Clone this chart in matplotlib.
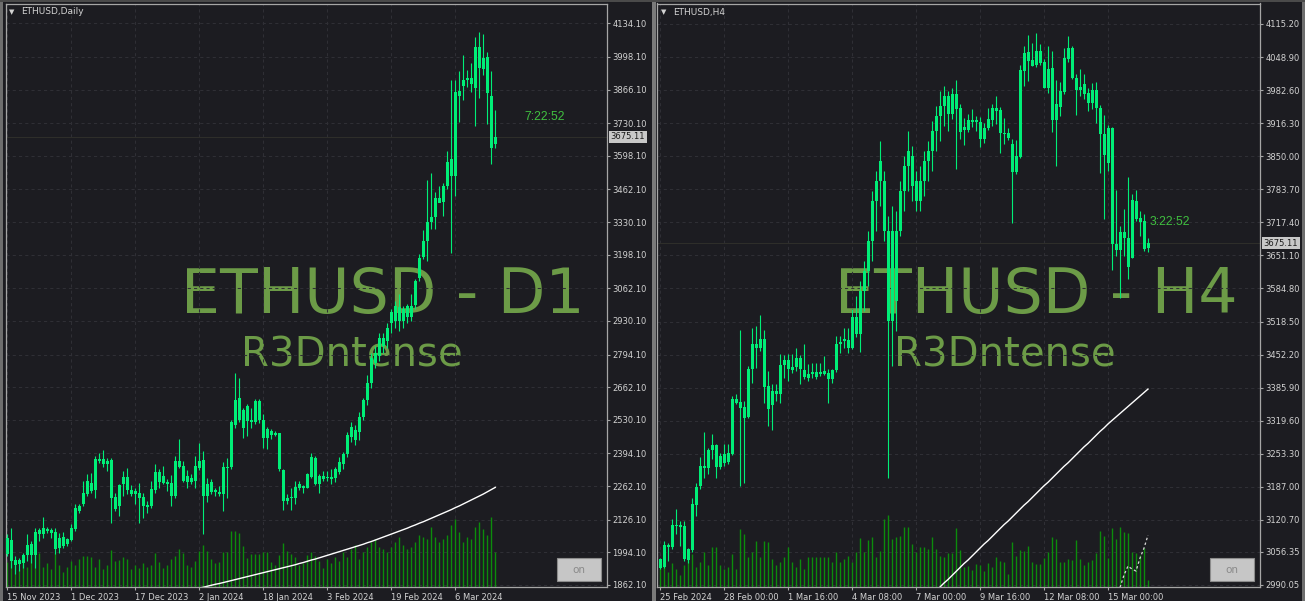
import matplotlib.pyplot as plt
import numpy as np
from matplotlib.patches import Rectangle
from matplotlib import transforms

W, H = 1305, 601
BG = '#1c1c21'
GRID = '#2f2f35'
CANDLE = '#00ee77'
VOLC = '#0c8c0c'
WATER = '#6c9b47'
FRAME = '#a6a6a6'
LABEL = '#d2d2d2'

# ---- ETHUSD Daily ----
d_hi = [2067, 2094, 1979, 1972, 1993, 2067, 2040, 2094, 2094, 2137, 2097, 2094, 2094, 2074, 2078, 2053,
        2110, 2191, 2188, 2283, 2310, 2317, 2384, 2398, 2407, 2377, 2377, 2236, 2272, 2323, 2334, 2267,
        2256, 2276, 2236, 2202, 2283, 2350, 2330, 2344, 2290, 2307, 2384, 2452, 2364, 2326, 2310, 2384,
        2438, 2404, 2296, 2290, 2256, 2263, 2361, 2375, 2529, 2720, 2700, 2580, 2594, 2580, 2614, 2614,
        2553, 2502, 2492, 2483, 2475, 2330, 2229, 2256, 2283, 2283, 2267, 2317, 2394, 2384, 2310, 2323,
        2323, 2330, 2340, 2380, 2400, 2480, 2520, 2510, 2560, 2620, 2710, 2800, 2830, 2880, 2880, 2920,
        2980, 3010, 3040, 2990, 3000, 3040, 3100, 3200, 3300, 3501, 3528, 3451, 3474, 3489, 3616, 3906,
        3906, 3941, 4004, 3946, 3973, 4079, 4099, 4092, 4018, 3940, 3784]
d_lo = [1979, 1932, 1905, 1918, 1932, 1959, 1952, 1932, 2040, 2053, 2074, 2053, 1986, 1993, 2013, 2020,
        2040, 2080, 2155, 2182, 2222, 2236, 2215, 2357, 2340, 2323, 2114, 2161, 2141, 2222, 2229, 2222,
        2191, 2114, 2134, 2155, 2175, 2236, 2256, 2269, 2242, 2182, 2213, 2334, 2280, 2256, 2269, 2256,
        2326, 2067, 2199, 2229, 2222, 2222, 2161, 2215, 2330, 2499, 2520, 2458, 2465, 2499, 2515, 2519,
        2418, 2411, 2452, 2465, 2323, 2166, 2188, 2166, 2188, 2245, 2236, 2256, 2296, 2267, 2236, 2283,
        2283, 2270, 2280, 2310, 2330, 2380, 2440, 2430, 2450, 2530, 2590, 2660, 2740, 2770, 2800, 2820,
        2880, 2900, 2890, 2900, 2920, 2930, 2980, 3090, 3180, 3174, 3302, 3302, 3410, 3354, 3464, 3205,
        3435, 3734, 3822, 3876, 3856, 3717, 3833, 3923, 3725, 3563, 3630]
d_op = [2053, 1959, 1963, 1948, 1952, 1983, 2029, 1983, 2067, 2093, 2080, 2085, 2078, 2013, 2056, 2029,
        2045, 2090, 2182, 2188, 2232, 2276, 2248, 2371, 2372, 2353, 2368, 2218, 2180, 2269, 2299, 2248,
        2229, 2236, 2218, 2178, 2182, 2245, 2321, 2276, 2279, 2276, 2222, 2364, 2344, 2280, 2296, 2283,
        2334, 2367, 2222, 2279, 2238, 2240, 2232, 2340, 2340, 2508, 2620, 2496, 2587, 2529, 2520, 2607,
        2529, 2458, 2485, 2468, 2475, 2327, 2202, 2213, 2213, 2253, 2263, 2256, 2299, 2377, 2272, 2303,
        2294, 2290, 2295, 2320, 2350, 2390, 2460, 2490, 2480, 2540, 2610, 2680, 2760, 2790, 2860, 2850,
        2920, 2990, 2930, 2980, 2945, 2990, 2996, 3105, 3187, 3252, 3329, 3350, 3428, 3410, 3475, 3586,
        3518, 3842, 3880, 3903, 3913, 3872, 4038, 3948, 3998, 3842, 3647]
d_cl = [1986, 2044, 1943, 1962, 1983, 2024, 1983, 2076, 2085, 2067, 2090, 2074, 2009, 2053, 2021, 2049,
        2094, 2175, 2161, 2234, 2283, 2242, 2372, 2364, 2353, 2364, 2215, 2171, 2267, 2299, 2245, 2232,
        2242, 2215, 2182, 2184, 2249, 2320, 2280, 2303, 2272, 2222, 2364, 2340, 2283, 2303, 2280, 2344,
        2364, 2222, 2269, 2240, 2247, 2232, 2340, 2334, 2520, 2611, 2529, 2570, 2526, 2520, 2607, 2529,
        2458, 2495, 2468, 2475, 2330, 2202, 2215, 2218, 2259, 2272, 2253, 2310, 2380, 2272, 2303, 2292,
        2299, 2300, 2330, 2360, 2390, 2470, 2500, 2450, 2540, 2610, 2680, 2780, 2800, 2860, 2830, 2900,
        2965, 2930, 2985, 2930, 2992, 2945, 3093, 3186, 3252, 3329, 3350, 3428, 3406, 3478, 3575, 3518,
        3856, 3862, 3903, 3913, 3890, 4038, 3953, 3994, 3852, 3629, 3675.11]
d_vol = [25, 34, 22, 18, 26, 20, 28, 34, 34, 20, 24, 18, 34, 22, 15, 20, 26, 22, 28, 31, 31, 30, 20, 28,
         18, 22, 37, 26, 27, 30, 28, 18, 22, 19, 24, 20, 22, 34, 25, 19, 22, 28, 31, 38, 34, 22, 20, 26,
         36, 42, 36, 28, 24, 25, 35, 35, 56, 56, 54, 41, 29, 33, 33, 33, 35, 35, 25, 22, 32, 44, 36, 33,
         30, 22, 24, 32, 35, 31, 26, 19, 28, 24, 30, 26, 35, 30, 38, 42, 28, 35, 40, 45, 48, 40, 38, 35,
         40, 45, 50, 42, 38, 40, 45, 52, 50, 48, 60, 50, 45, 48, 52, 62, 68, 55, 45, 50, 48, 60, 65, 58,
         52, 70, 35]
# moving average, from bar 48 to the last bar
d_ma = [1850, 1853, 1857, 1861, 1865, 1868, 1872, 1876, 1880, 1884, 1888, 1892, 1896, 1900, 1904, 1908,
        1912, 1916, 1920, 1924, 1928, 1932, 1936, 1940, 1944, 1949, 1953, 1958, 1963, 1967, 1972, 1977,
        1982, 1987, 1992, 1997, 2002, 2007, 2012, 2017, 2022, 2027, 2033, 2038, 2044, 2050, 2056, 2062,
        2068, 2074, 2080, 2086, 2092, 2099, 2105, 2112, 2118, 2125, 2132, 2139, 2146, 2153, 2160, 2167,
        2175, 2182, 2190, 2198, 2206, 2214, 2222, 2230, 2239, 2248, 2257]
d_ticks = [4134.10, 3998.10, 3866.10, 3730.10, 3598.10, 3462.10, 3330.10, 3198.10, 3062.10, 2930.10,
           2794.10, 2662.10, 2530.10, 2394.10, 2262.10, 2126.10, 1994.10, 1862.10]
d_dates = ['15 Nov 2023', '1 Dec 2023', '17 Dec 2023', '2 Jan 2024', '18 Jan 2024', '3 Feb 2024',
           '19 Feb 2024', '6 Mar 2024']

# ---- ETHUSD H4 ----
h_hi = [3045, 3078, 3075, 3122, 3142, 3118, 3118, 3065, 3164, 3195, 3247, 3296, 3265.5, 3292, 3272, 3255,
        3272, 3273.5, 3369, 3372.5, 3501, 3359, 3429, 3506, 3509.5, 3531.5, 3501, 3419, 3392.5, 3392.5,
        3452.6, 3451, 3452.6, 3452.6, 3464.7, 3451, 3474, 3432.6, 3436, 3436, 3436, 3449, 3422.6, 3422.6,
        3489.4, 3489.4, 3506, 3506, 3543, 3570, 3600, 3640, 3700, 3780, 3820, 3880, 3820, 3730, 3750,
        3740, 3800, 3850, 3900, 3870, 3820, 3830, 3860, 3880, 3920, 3950, 3980, 3990, 3980, 3987.5, 4002,
        3955.4, 3927, 3934, 3944, 3930.7, 3928.7, 3917.3, 3947.4, 3954, 3970.8, 3948.7, 3927, 3906,
        3883.9, 3882, 4033, 4071, 4093, 4077.7, 4096.5, 4074.4, 4044.3, 4071, 4061, 4002, 3999.5, 4067.7,
        4091, 4071, 4014.2, 4024.3, 4014.2, 3987.5, 3997.5, 3999.5, 3952.7, 3932.7, 3912, 3908.6, 3781.6,
        3710, 3743.5, 3808.3, 3774.9, 3781.6, 3740.2, 3733.5, 3685.3]
h_lo = [3021.5, 3025, 3038, 3062, 3092, 3068, 3038, 3035, 3057, 3128, 3182, 3205, 3212, 3242, 3204, 3222,
        3229, 3232, 3251, 3352.5, 3188, 3194, 3325.6, 3394.5, 3426, 3459, 3354.5, 3309, 3300, 3359,
        3354.5, 3406, 3399, 3416, 3419, 3392.5, 3402.5, 3399, 3404.5, 3402.5, 3409, 3411, 3356, 3396,
        3418, 3456, 3466, 3454.6, 3462.7, 3487.4, 3458, 3540, 3590, 3640, 3700, 3750, 3680, 3205, 3430,
        3500, 3690, 3740, 3780, 3760, 3740, 3740, 3770, 3800, 3820, 3860, 3880, 3910, 3900, 3924, 3825,
        3885, 3872.5, 3898.6, 3908.6, 3900.6, 3868.5, 3877.2, 3901.9, 3910.6, 3914, 3857, 3874, 3882,
        3716.8, 3815, 3847, 3990.8, 4000.9, 4031, 4029.6, 4033, 3987.5, 3977.5, 3898.6, 3830.4, 3930.7,
        3975.5, 4039.6, 4004.2, 3932.7, 3970.8, 3964, 3940.7, 3944, 3916, 3817, 3723.4, 3820.4, 3621.2,
        3649.9, 3565, 3649.9, 3603.1, 3645.2, 3720.1, 3690, 3659.9, 3658.6]
h_op = [3041.5, 3027, 3070, 3066, 3108, 3110, 3108, 3040, 3060, 3150.5, 3188.6, 3228, 3224, 3260, 3271,
        3227, 3252, 3237, 3252, 3362.5, 3357, 3347, 3327, 3422.6, 3474, 3466, 3482.7, 3389, 3350.5, 3379,
        3372.5, 3431, 3441, 3421, 3428, 3444.6, 3421, 3405.9, 3413.9, 3417, 3413.9, 3419, 3416, 3402.5,
        3420.6, 3472.7, 3479.4, 3480.7, 3466, 3527.5, 3492.7, 3580, 3620, 3680, 3760, 3800, 3800, 3700,
        3520, 3700, 3700, 3780, 3830, 3850, 3800, 3760, 3800, 3840, 3860, 3900, 3930, 3950, 3970, 3934,
        3975.5, 3946, 3902.6, 3902.6, 3922.7, 3918.6, 3918.6, 3883.9, 3907.3, 3922, 3946, 3942, 3897.3,
        3897.3, 3873.9, 3819, 3848.5, 4020.9, 4059, 4042.3, 4033, 4061, 4039.6, 3987.5, 4026.3, 3922.7,
        3949.4, 3978.8, 4045.7, 4066.4, 4007.6, 3982.2, 3994.2, 3977.5, 3957.4, 3982.2, 3946, 3895.2,
        3837, 3905.9, 3674.6, 3661.9, 3698, 3685.3, 3646.6, 3760.2, 3726.8, 3720.1, 3665]
h_cl = [3025, 3070, 3066, 3110, 3111, 3106, 3041.5, 3061.6, 3153, 3187, 3228, 3224, 3261, 3271, 3227,
        3249, 3235, 3254, 3362.5, 3355.7, 3345.7, 3325.6, 3422.6, 3472.6, 3466, 3482.7, 3387.8, 3344,
        3379, 3372.5, 3431, 3441, 3422.6, 3428, 3444.6, 3422.6, 3407, 3413.9, 3417, 3408, 3418, 3413.9,
        3402.5, 3420.6, 3474, 3478, 3482.7, 3466, 3527.5, 3492.7, 3580, 3620, 3680, 3760, 3800, 3840,
        3700, 3520, 3700, 3560, 3780, 3830, 3860, 3790, 3760, 3800, 3840, 3860, 3900, 3930, 3950, 3970,
        3934, 3974, 3944, 3899.3, 3908.6, 3922.7, 3919.3, 3922.7, 3883.9, 3907.3, 3924, 3946, 3940.7,
        3897.3, 3894, 3885.9, 3819, 3850.5, 4022.9, 4057.7, 4041, 4031, 4061, 4037.6, 3987.5, 4024.3,
        3922.7, 3954, 3980.8, 4047.7, 4066.4, 4007.6, 3982.8, 3989.5, 3975.5, 3957.4, 3982.2, 3946,
        3893.9, 3852.5, 3905.9, 3673.3, 3661.9, 3698, 3685.3, 3628.5, 3762.2, 3724.8, 3718.8, 3663.3,
        3675.11]
h_vol = [20, 26, 15, 24, 18, 12, 22, 28, 33, 20, 25, 35, 22, 40, 40, 22, 18, 20, 33, 18, 58, 53, 30, 35,
         46, 30, 46, 45, 28, 22, 25, 30, 40, 25, 20, 28, 18, 30, 30, 30, 30, 30, 30, 25, 35, 25, 28, 31,
         25, 35, 49, 35, 47, 50, 30, 36, 68, 72, 48, 50, 51, 60, 60, 43, 35, 40, 40, 38, 50, 38, 31, 30,
         34, 34, 59, 37, 20, 21, 17, 23, 22, 16, 24, 20, 30, 26, 25, 13, 45, 31, 37, 36, 41, 25, 23, 23,
         29, 35, 50, 48, 25, 25, 28, 27, 47, 28, 22, 25, 27, 34, 56, 51, 29, 59, 48, 60, 55, 54, 35, 34,
         32, 39, 7]
# indicator lines, from bar 68 (solid) and bar 115 (dashed) to the last bar
h_ma = [2970, 2978, 2986, 2994, 3001, 3009, 3017, 3025, 3033, 3040, 3048, 3056, 3064, 3072, 3079, 3087,
        3095, 3103, 3111, 3118, 3126, 3134, 3142, 3150, 3157, 3165, 3173, 3181, 3189, 3196, 3204, 3212,
        3220, 3228, 3235, 3243, 3251, 3259, 3267, 3274, 3282, 3290, 3298, 3305, 3313, 3320, 3327, 3334,
        3341, 3348, 3355, 3362, 3369, 3376, 3383]
h_sig = [2985, 3010, 3028, 3022, 3018, 3044, 3064, 3090]
h_ticks = [4115.20, 4048.90, 3982.60, 3916.30, 3850.00, 3783.70, 3717.40, 3651.10, 3584.80, 3518.50,
           3452.20, 3385.90, 3319.60, 3253.30, 3187.00, 3120.70, 3056.35, 2990.05]
h_dates = ['25 Feb 2024', '28 Feb 00:00', '1 Mar 16:00', '4 Mar 08:00', '7 Mar 00:00', '9 Mar 16:00',
           '12 Mar 08:00', '15 Mar 00:00']

fig = plt.figure(figsize=(W / 100, H / 100), dpi=100)
fig.patch.set_facecolor(BG)


def add_ax(x0, x1, y0, y1):
    return fig.add_axes([x0 / W, 1 - y1 / H, (x1 - x0) / W, (y1 - y0) / H])


def panel(ax, op, hi, lo, cl, vol, ylim, xlim, ticks, dates, min_body):
    x = np.arange(len(op))
    ax.set_facecolor(BG)
    ax.set_xlim(*xlim)
    ax.set_ylim(*ylim)
    # volumes along the bottom
    ax.vlines(x, 0, np.array(vol) / 583.5, transform=ax.get_xaxis_transform(),
              color=VOLC, lw=1.0, zorder=1)
    op, cl = np.array(op), np.array(cl)
    ax.vlines(x, lo, hi, color=CANDLE, lw=0.8, zorder=3)
    bot = np.minimum(op, cl)
    hgt = np.maximum(np.abs(cl - op), min_body)
    ax.bar(x, hgt, bottom=bot, width=0.75, color=CANDLE, lw=0, zorder=3)
    ax.axhline(cl[-1], color='#2e2e2a', lw=0.8, zorder=0.6)

    ax.set_yticks(ticks)
    ax.set_yticklabels(['%.2f' % t for t in ticks])
    ax.yaxis.tick_right()
    ax.set_xticks(np.arange(0, len(op), 16)[:len(dates)])
    ax.set_xticklabels(dates)
    for lab in ax.get_xticklabels():
        lab.set_ha('left')
    ax.tick_params(axis='both', colors=FRAME, labelcolor=LABEL, labelsize=6, length=2.5,
                   width=0.8, pad=1.5)
    ax.set_axisbelow(True)
    ax.grid(True, color=GRID, ls=(0, (3, 3)), lw=0.75)
    for s in ax.spines.values():
        s.set_color(FRAME)
        s.set_linewidth(0.9)

    tr = transforms.blended_transform_factory(ax.transAxes, ax.transData)
    off = transforms.ScaledTranslation(3.5 / 100, 0, fig.dpi_scale_trans)
    ax.text(1.0, cl[-1], '%.2f' % cl[-1], transform=tr + off, ha='left', va='center',
            fontsize=6, color='#1a1a1a', clip_on=False, zorder=5,
            bbox=dict(boxstyle='square,pad=0.18', fc='#c8c8c8', ec='none'))


# left chart, daily
axd = add_ax(6, 607, 3.5, 587)
panel(axd, d_op, d_hi, d_lo, d_cl, d_vol, (1854, 4214.2), (-0.325, 149.925), d_ticks, d_dates, 4)
axd.plot(np.arange(48, 48 + len(d_ma)), d_ma, color='white', lw=1.0, zorder=2)
axd.text(0.6265, 0.4696, 'ETHUSD - D1', transform=axd.transAxes, ha='center', va='baseline',
         fontsize=44.5, color=WATER, zorder=0.3)
axd.text(0.575, 0.3787, 'R3Dntense', transform=axd.transAxes, ha='center', va='baseline',
         fontsize=29, color=WATER, zorder=0.3)
axd.text(0.896, 0.8055, '7:22:52', transform=axd.transAxes, ha='center', va='center',
         fontsize=8.8, color='#40c040', family=['Liberation Sans', 'DejaVu Sans'])

# right chart, H4
axh = add_ax(657, 1260, 3.5, 587)
panel(axh, h_op, h_hi, h_lo, h_cl, h_vol, (2986, 4156.3), (-0.75, 150.0), h_ticks, h_dates, 2)
axh.plot(np.arange(68, 68 + len(h_ma)), h_ma, color='white', lw=1.0, zorder=2)
axh.plot(np.arange(115, 115 + len(h_sig)), h_sig, color='#d8d8d8', lw=0.9, ls=(0, (2, 2)), zorder=2)
axh.text(0.6285, 0.4696, 'ETHUSD - H4', transform=axh.transAxes, ha='center', va='baseline',
         fontsize=44.5, color=WATER, zorder=0.3)
axh.text(0.5763, 0.3787, 'R3Dntense', transform=axh.transAxes, ha='center', va='baseline',
         fontsize=29, color=WATER, zorder=0.3)
axh.text(0.8507, 0.6255, '3:22:52', transform=axh.transAxes, ha='center', va='center',
         fontsize=8.8, color='#40c040', family=['Liberation Sans', 'DejaVu Sans'])

# symbol captions
for x0, name in [(9, 'ETHUSD,Daily'), (661, 'ETHUSD,H4')]:
    fig.text(x0 / W, 1 - 12 / H, '\u25bc', fontsize=5, color=LABEL, va='center', ha='left')
    fig.text((x0 + 12) / W, 1 - 12 / H, name, fontsize=6.5, color=LABEL, va='center', ha='left')

# "on" buttons
for x0 in (557, 1210):
    fig.patches.append(Rectangle((x0 / W, 1 - 581 / H), 44 / W, 23 / H, transform=fig.transFigure,
                                 fc='#c6c6c6', ec='#8c8c8c', lw=0.8))
    fig.text((x0 + 22) / W, 1 - 570 / H, 'on', fontsize=7.5, color='#8a8a8a', ha='center', va='center')

# window frame and the separator between the two charts
for (x0, y0, w, h, c) in [(0, 0, 3, H, '#6e6e6e'), (652, 0, 4, H, '#7a7a7a'),
                          (1302, 0, 3, H, '#6e6e6e'), (0, 0, W, 2, '#4a4a4a')]:
    fig.patches.append(Rectangle((x0 / W, 1 - (y0 + h) / H), w / W, h / H,
                                 transform=fig.transFigure, fc=c, ec='none'))

fig.savefig('out.png', dpi=100, facecolor=BG)
